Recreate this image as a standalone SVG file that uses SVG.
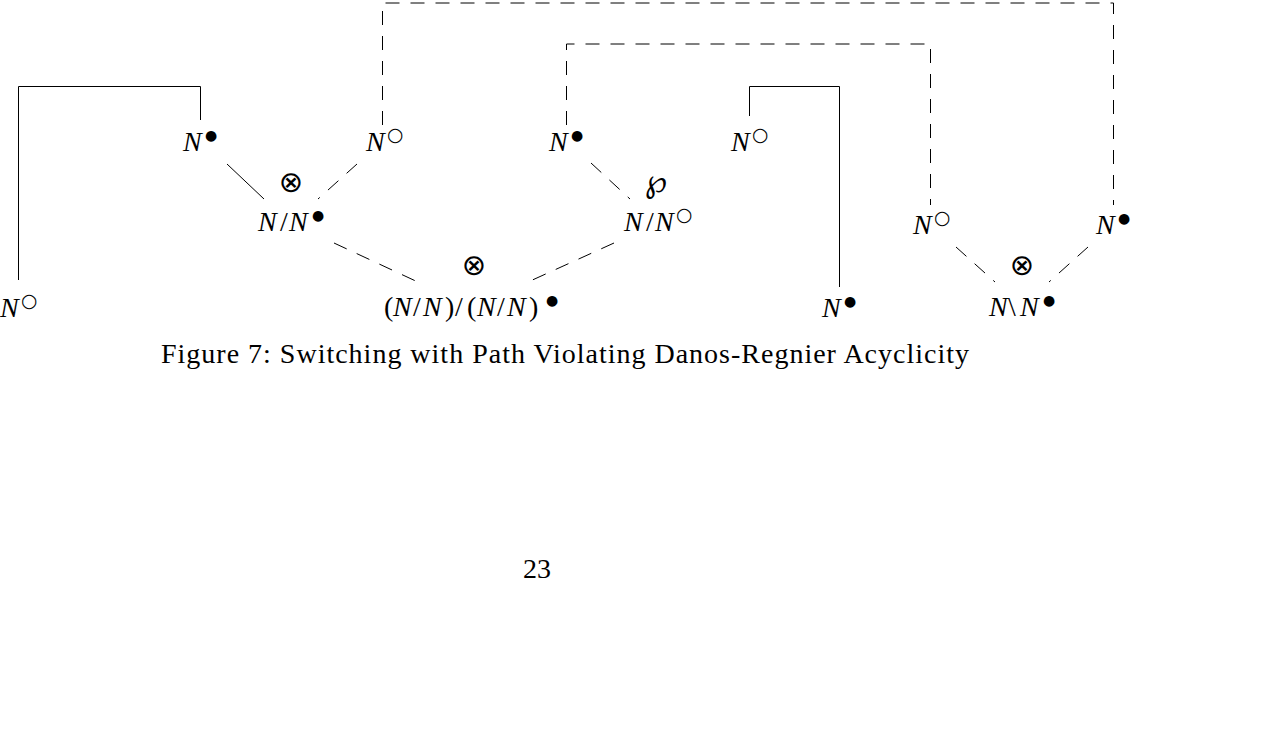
<svg xmlns="http://www.w3.org/2000/svg" width="1272" height="738" viewBox="0 0 1272 738">
<style>
.bg{fill:#fff}
.lbl{font-family:"Liberation Serif","Times New Roman",serif;font-size:28px;font-style:italic;fill:#000}
.up{font-style:normal}
.b{font-family:"DejaVu Sans",sans-serif;font-style:normal;font-size:14px}
.r{font-family:"DejaVu Sans",sans-serif;font-style:normal;font-size:19px}
.op{font-family:"DejaVu Sans",sans-serif;font-size:29px;fill:#000;text-anchor:middle}
.wp{font-family:"DejaVu Sans",sans-serif;font-size:32px;fill:#000;text-anchor:middle}
.cap{font-family:"Liberation Serif","Times New Roman",serif;font-size:28px;fill:#000}
.solid{fill:none;stroke:#000;stroke-width:1}
.dash{fill:none;stroke:#000;stroke-width:1;stroke-dasharray:14 11}
</style>
<rect class="bg" x="0" y="0" width="1272" height="738"/>
<g id="connectors">
<path class="solid" d="M18.5 280 V86.5 H200.5 V120"/>
<path class="solid" d="M749.5 116 V86.5 H839.5 V287"/>
<path class="solid" d="M227 164 L264 199"/>
<path class="dash" d="M382.5 125 V3 H1113.5 V205"/>
<path class="dash" d="M566.5 125 V44 H930.5 V205"/>
<path class="dash" d="M357 164 L318 199"/>
<path class="dash" d="M334 243 L420 283"/>
<path class="dash" d="M591 163 L630 199"/>
<path class="dash" d="M614 243 L528 282"/>
<path class="dash" d="M956 247 L995 282"/>
<path class="dash" d="M1088 247 L1049 282"/>
</g>
<g id="n1"><text class="lbl" x="0" y="317">N<tspan class="r" x="21" y="307">○</tspan></text></g>
<g id="n2"><text class="lbl" x="183" y="151">N<tspan class="b" x="205" y="140">●</tspan></text></g>
<g id="n3"><text class="lbl" x="366" y="151">N<tspan class="r" x="387" y="141">○</tspan></text></g>
<g id="n4"><text class="lbl" x="258" y="231">N<tspan class="up" x="280">/</tspan><tspan x="289">N</tspan><tspan class="b" x="312" y="220">●</tspan></text></g>
<g id="op1"><text class="op" x="291" y="192">⊗</text></g>
<g id="n5"><text class="lbl" x="549" y="151">N<tspan class="b" x="571" y="140">●</tspan></text></g>
<g id="n6"><text class="lbl" x="624" y="231">N<tspan class="up" x="646">/</tspan><tspan x="655">N</tspan><tspan class="r" x="676" y="221">○</tspan></text></g>
<g id="op2"><text class="wp" x="656" y="192">℘</text></g>
<g id="n7"><text class="lbl" x="384" y="316"><tspan class="up">(</tspan><tspan x="393">N</tspan><tspan class="up" x="413">/</tspan><tspan x="423">N</tspan><tspan class="up" x="445">)</tspan><tspan class="up" x="455">/</tspan><tspan class="up" x="467">(</tspan><tspan x="477">N</tspan><tspan class="up" x="497">/</tspan><tspan x="507">N</tspan><tspan class="up" x="529">)</tspan><tspan class="b" x="546" y="305">●</tspan></text></g>
<g id="op3"><text class="op" x="474" y="275">⊗</text></g>
<g id="n8"><text class="lbl" x="731" y="151">N<tspan class="r" x="752" y="141">○</tspan></text></g>
<g id="n9"><text class="lbl" x="822" y="317">N<tspan class="b" x="844" y="306">●</tspan></text></g>
<g id="n10"><text class="lbl" x="913" y="234">N<tspan class="r" x="934" y="224">○</tspan></text></g>
<g id="n11"><text class="lbl" x="1096" y="234">N<tspan class="b" x="1118" y="223">●</tspan></text></g>
<g id="n12"><text class="lbl" x="989" y="316">N<tspan class="up" x="1008">\</tspan><tspan x="1020">N</tspan><tspan class="b" x="1043" y="305">●</tspan></text></g>
<g id="op4"><text class="op" x="1022" y="275">⊗</text></g>
<text class="cap" x="161" y="363" textLength="808" lengthAdjust="spacing">Figure 7: Switching with Path Violating Danos-Regnier Acyclicity</text>
<text class="cap" x="523" y="578">23</text>
</svg>
